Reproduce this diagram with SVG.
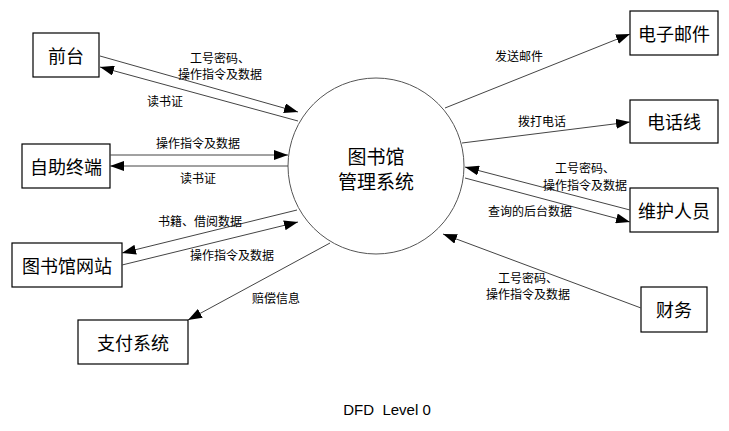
<svg xmlns="http://www.w3.org/2000/svg" width="729" height="431" viewBox="0 0 729 431">
<defs>
<marker id="arr" viewBox="0 0 14 10" refX="14" refY="5" markerWidth="14" markerHeight="10" markerUnits="userSpaceOnUse" orient="auto">
<path d="M0,0 L14,5 L0,10 Z" fill="#000"/>
</marker>
</defs>
<style>
.box{fill:#fff;stroke:#000;stroke-width:1.2}
.nt{font-family:"Noto Sans CJK SC","Noto Sans",sans-serif;font-size:18px;fill:#000;text-anchor:middle;dominant-baseline:central}
.ct{font-size:19px}
.lt{font-family:"Noto Sans CJK SC","Noto Sans",sans-serif;font-size:12px;fill:#000;text-anchor:middle;dominant-baseline:central}
.ln{stroke:#444;stroke-width:1;fill:none;marker-end:url(#arr)}
</style>
<rect width="729" height="431" fill="#fff"/>
<g id="center">
<circle cx="376" cy="166" r="88" fill="#fff" stroke="#555" stroke-width="1"/>
<text class="nt ct" x="376" y="155">图书馆</text>
<text class="nt ct" x="376" y="180">管理系统</text>
</g>
<g id="qiantai"><rect class="box" x="33" y="33" width="66" height="44"/><text class="nt" x="66" y="55">前台</text></g>
<g id="zizhu"><rect class="box" x="22" y="144" width="88" height="44"/><text class="nt" x="66" y="166">自助终端</text></g>
<g id="wangzhan"><rect class="box" x="12" y="243" width="110" height="44"/><text class="nt" x="67" y="265">图书馆网站</text></g>
<g id="zhifu"><rect class="box" x="78" y="320" width="110" height="44"/><text class="nt" x="133" y="342">支付系统</text></g>
<g id="youjian"><rect class="box" x="630" y="11" width="88" height="44"/><text class="nt" x="674" y="33">电子邮件</text></g>
<g id="dianhua"><rect class="box" x="630" y="100" width="88" height="43"/><text class="nt" x="674" y="121">电话线</text></g>
<g id="weihu"><rect class="box" x="630" y="188" width="88" height="44"/><text class="nt" x="674" y="210">维护人员</text></g>
<g id="caiwu"><rect class="box" x="641" y="287" width="66" height="45"/><text class="nt" x="674" y="309">财务</text></g>
<g id="connectors">
<line class="ln" x1="100" y1="56" x2="298" y2="112"/>
<line class="ln" x1="298" y1="121" x2="100" y2="67"/>
<line class="ln" x1="110" y1="155" x2="288" y2="155"/>
<line class="ln" x1="288" y1="166" x2="110" y2="166"/>
<line class="ln" x1="297" y1="210" x2="122" y2="253"/>
<line class="ln" x1="122" y1="265" x2="298" y2="222"/>
<line class="ln" x1="330" y1="243" x2="188" y2="320"/>
<line class="ln" x1="445" y1="108" x2="630" y2="34"/>
<line class="ln" x1="462" y1="143" x2="630" y2="122"/>
<line class="ln" x1="630" y1="210" x2="465" y2="167"/>
<line class="ln" x1="465" y1="178" x2="630" y2="222"/>
<line class="ln" x1="641" y1="308" x2="443" y2="234"/>
</g>
<g id="labels">
<text class="lt" x="220" y="57">工号密码、</text>
<text class="lt" x="220" y="73">操作指令及数据</text>
<text class="lt" x="165" y="100">读书证</text>
<text class="lt" x="198" y="142">操作指令及数据</text>
<text class="lt" x="198" y="177">读书证</text>
<text class="lt" x="200" y="220">书籍、借阅数据</text>
<text class="lt" x="232" y="254">操作指令及数据</text>
<text class="lt" x="276" y="297">赔偿信息</text>
<text class="lt" x="519" y="55">发送邮件</text>
<text class="lt" x="542" y="120">拨打电话</text>
<text class="lt" x="585" y="167">工号密码、</text>
<text class="lt" x="585" y="184">操作指令及数据</text>
<text class="lt" x="530" y="210">查询的后台数据</text>
<text class="lt" x="528" y="277">工号密码、</text>
<text class="lt" x="528" y="293">操作指令及数据</text>
<text x="387" y="409" font-family="'Liberation Sans','Noto Sans',sans-serif" font-size="15" text-anchor="middle" dominant-baseline="central" xml:space="preserve">DFD  Level 0</text>
</g>
</svg>
